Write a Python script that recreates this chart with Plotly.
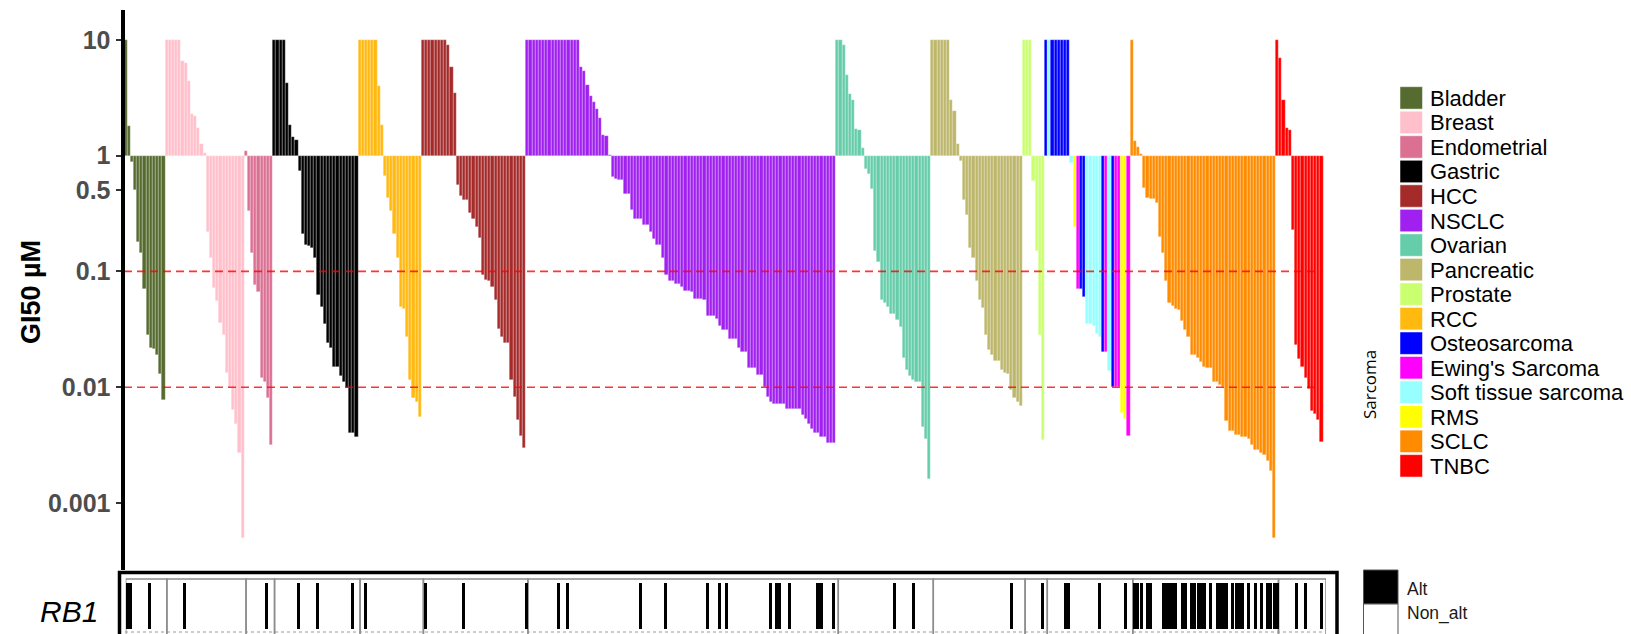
import plotly.graph_objects as go

W, H = 1631, 634

# ---------------- data (GI50 in µM, values clipped at 10) ----------------
groups = ["Bladder", "Breast", "Endometrial", "Gastric", "RCC", "HCC", "NSCLC",
          "Ovarian", "Pancreatic", "Prostate", "Sarcoma", "SCLC", "TNBC"]

gi50_bladder = [10, 1.8, 0.88, 0.50, 0.18, 0.145, 0.070, 0.028, 0.022, 0.0215, 0.019, 0.013, 0.0078]
gi50_breast = [10, 10, 10, 10, 10, 6.6, 6.3, 4.4, 2.3, 2.2, 1.74, 1.27, 1.05,
               0.22, 0.13, 0.072, 0.055, 0.036, 0.028, 0.0134, 0.0098, 0.0063, 0.0048, 0.0027, 0.0005]
gi50_endometrial = [1.1, 0.33, 0.145, 0.076, 0.067, 0.012, 0.011, 0.008, 0.0032]
gi50_gastric = [10, 10, 10, 10, 4.2, 1.83, 1.44, 1.37,
                0.73, 0.21, 0.17, 0.165, 0.16, 0.13, 0.063, 0.049, 0.035, 0.024, 0.022,
                0.015, 0.015, 0.0125, 0.011, 0.0098, 0.004, 0.004, 0.0037]
gi50_rcc = [10, 10, 10, 10, 10, 10, 4.0, 1.83,
            0.66, 0.43, 0.33, 0.21, 0.13, 0.049, 0.047, 0.027, 0.0115, 0.008, 0.0074, 0.0055]
gi50_hcc = [10, 10, 10, 10, 10, 10, 10, 10, 9.0, 5.8, 3.5,
            0.56, 0.45, 0.41, 0.41, 0.32, 0.285, 0.24, 0.195, 0.094, 0.085, 0.082, 0.074,
            0.057, 0.032, 0.027, 0.024, 0.024, 0.0115, 0.0083, 0.0052, 0.0038, 0.003]
gi50_nsclc = [10, 10, 10, 10, 10, 10, 10, 10, 10, 10, 10, 10, 10, 10, 10, 10, 10,
              5.8, 5.4, 4.1, 3.25, 2.9, 2.55, 2.1, 1.5, 1.47, 1.02,
              0.65, 0.63, 0.62, 0.62, 0.47, 0.47, 0.34, 0.285, 0.285, 0.285, 0.25, 0.25,
              0.22, 0.19, 0.17, 0.17, 0.13, 0.094, 0.082, 0.082, 0.078, 0.078, 0.073,
              0.068, 0.068, 0.066, 0.058, 0.058, 0.058, 0.057, 0.041, 0.041, 0.041, 0.039,
              0.034, 0.031, 0.031, 0.026, 0.026, 0.026, 0.022, 0.020, 0.020, 0.0147, 0.0147,
              0.0147, 0.0128, 0.0128, 0.0100, 0.0083, 0.0074, 0.0072, 0.0072, 0.0072, 0.0072,
              0.0065, 0.0065, 0.0065, 0.0065, 0.0065, 0.0058, 0.0053, 0.0048, 0.0044, 0.0040,
              0.0040, 0.0037, 0.0037, 0.0033, 0.0033, 0.0033]
gi50_ovarian = [10, 10, 9.0, 5.0, 3.4, 3.05, 1.7, 1.65, 1.16,
                0.76, 0.69, 0.51, 0.15, 0.12, 0.057, 0.053, 0.049, 0.043, 0.043, 0.038, 0.033,
                0.018, 0.014, 0.0125, 0.0116, 0.011, 0.011, 0.0045, 0.0036, 0.0016]
gi50_pancreatic = [10, 10, 10, 10, 10, 10, 3.05, 2.45, 1.27,
                   0.89, 0.41, 0.31, 0.16, 0.13, 0.082, 0.057, 0.048, 0.028, 0.021, 0.019,
                   0.017, 0.0168, 0.014, 0.0134, 0.013, 0.0094, 0.0080, 0.0074, 0.0069]
gi50_prostate = [10, 10, 10, 0.6, 0.15, 0.028, 0.0035]
gi50_sarcoma = [10, 10, 10, 10, 10, 10, 10, 10,
                0.86, 0.24, 0.070, 0.070, 0.060, 0.035, 0.035, 0.034, 0.029, 0.027,
                0.020, 0.020, 0.0139, 0.0100, 0.0100, 0.0100, 0.0060, 0.0053, 0.0038]
sarcoma_subtype = ["Osteosarcoma", "Soft tissue sarcoma", "Osteosarcoma", "Osteosarcoma",
                   "Osteosarcoma", "Osteosarcoma", "Osteosarcoma", "Osteosarcoma",
                   "Soft tissue sarcoma", "RMS", "Ewing's Sarcoma", "Osteosarcoma", "Osteosarcoma",
                   "Soft tissue sarcoma", "Soft tissue sarcoma", "Soft tissue sarcoma",
                   "Soft tissue sarcoma", "Soft tissue sarcoma", "Osteosarcoma", "Ewing's Sarcoma",
                   "Soft tissue sarcoma", "Osteosarcoma", "Ewing's Sarcoma", "Ewing's Sarcoma",
                   "RMS", "RMS", "Ewing's Sarcoma"]
gi50_sclc = [10, 1.34, 1.19, 1.03,
             0.53, 0.43, 0.42, 0.42, 0.39, 0.20, 0.145, 0.082, 0.053, 0.050, 0.047, 0.046,
             0.037, 0.031, 0.027, 0.019, 0.019, 0.018, 0.0165, 0.015, 0.0148, 0.0147, 0.011,
             0.011, 0.0105, 0.0100, 0.0051, 0.0042, 0.0042, 0.0039, 0.0039, 0.0037, 0.0037,
             0.0036, 0.0032, 0.0029, 0.0029, 0.0027, 0.0026, 0.0023, 0.0019, 0.0005]
gi50_tnbc = [10, 6.9, 3.0, 1.74, 1.65, 0.23, 0.023, 0.0175, 0.015, 0.012, 0.0096,
             0.0062, 0.0059, 0.0052, 0.0034]

# RB1 alteration status: index of altered cell lines within each group
rb1_alt_bladder = [0, 1, 7]
rb1_alt_breast = [5]
rb1_alt_endometrial = [6]
rb1_alt_gastric = [7, 13, 24]
rb1_alt_rcc = [1]
rb1_alt_hcc = [0, 12, 32]
rb1_alt_nsclc = [9, 12, 35, 43, 56, 60, 62, 76, 78, 79, 82, 91, 92, 96]
rb1_alt_ovarian = [17, 23]
rb1_alt_pancreatic = [24]
rb1_alt_prostate = [5]
rb1_alt_sarcoma = [5, 6, 16, 24]
rb1_alt_sclc = [0, 1, 2, 4, 5, 9, 10, 11, 12, 13, 15, 16, 18, 19, 20, 21, 22, 24, 26, 27,
                28, 29, 31, 32, 33, 34, 36, 38, 40, 42, 43, 44, 45]
rb1_alt_tnbc = [5, 8, 13]

legend_labels = ["Bladder", "Breast", "Endometrial", "Gastric", "HCC", "NSCLC", "Ovarian",
                 "Pancreatic", "Prostate", "RCC", "Osteosarcoma", "Ewing's Sarcoma",
                 "Soft tissue sarcoma", "RMS", "SCLC", "TNBC"]
legend_colors = ["#556B2F", "#FFC0CB", "#DB7093", "#000000", "#A52A2A", "#A020F0", "#66CDAA",
                 "#BDB76B", "#CAFF70", "#FFB90F", "#0000FF", "#FF00FF", "#97FFFF", "#FFFF00",
                 "#FF8C00", "#FF0000"]

ytick_vals = [0.001, 0.01, 0.1, 0.5, 1, 10]
ytick_text = ["0.001", "0.01", "0.1", "0.5", "1", "10"]
ref_lines = [0.1, 0.01]

# ---------------- assemble ----------------
values = [gi50_bladder, gi50_breast, gi50_endometrial, gi50_gastric, gi50_rcc, gi50_hcc,
          gi50_nsclc, gi50_ovarian, gi50_pancreatic, gi50_prostate, gi50_sarcoma,
          gi50_sclc, gi50_tnbc]
alts = [rb1_alt_bladder, rb1_alt_breast, rb1_alt_endometrial, rb1_alt_gastric, rb1_alt_rcc,
        rb1_alt_hcc, rb1_alt_nsclc, rb1_alt_ovarian, rb1_alt_pancreatic, rb1_alt_prostate,
        rb1_alt_sarcoma, rb1_alt_sclc, rb1_alt_tnbc]
color_of = dict(zip(legend_labels, legend_colors))

bx, by, bbase, bcol = [], [], [], []
sx = []
bounds = []
idx = 0
for g, vals, alt in zip(groups, values, alts):
    start = idx
    for j, v in enumerate(vals):
        bx.append(idx)
        by.append(v - 1.0)
        bbase.append(1.0)
        if g == "Sarcoma":
            bcol.append(color_of[sarcoma_subtype[j]])
        else:
            bcol.append(color_of[g])
        if j in alt:
            sx.append(idx)
        idx += 1
    bounds.append((start, idx - 1))
N = idx


def px_x(p):
    return p / W


def px_y(p):
    return 1 - p / H


pitch = 1199.0 / N          # pixels per cell line
left_px, right_px = 124.5, 1326.0
x_min = -0.5 + (left_px - 124.0) / pitch
x_max = -0.5 + (right_px - 124.0) / pitch

fig = go.Figure()

fig.add_trace(go.Bar(
    x=bx, y=by, base=bbase, width=1.0,
    marker=dict(color=bcol, line=dict(color="rgba(255,255,255,0.55)", width=0.5)),
    xaxis="x", yaxis="y", showlegend=False, hoverinfo="skip"))

for v in ref_lines:
    fig.add_trace(go.Scatter(
        x=[-0.5, N - 0.5], y=[v, v], mode="lines",
        line=dict(color="rgba(255,0,0,0.8)", width=1.6, dash="8px,5px"),
        xaxis="x", yaxis="y", showlegend=False, hoverinfo="skip"))

fig.add_trace(go.Bar(
    x=sx, y=[1] * len(sx), base=[0] * len(sx), width=0.95,
    marker=dict(color="black", line=dict(width=0)),
    xaxis="x2", yaxis="y2", showlegend=False, hoverinfo="skip"))

shapes = []
annotations = []

# strip panels
for (s, e) in bounds:
    shapes.append(dict(type="rect", xref="x2", yref="paper", x0=s - 0.5, x1=e + 0.5,
                       y0=px_y(636), y1=px_y(579),
                       line=dict(color="#8c8c8c", width=1.5), fillcolor="rgba(0,0,0,0)",
                       layer="below"))
shapes.append(dict(type="line", xref="paper", yref="paper", x0=px_x(125), x1=px_x(1326),
                   y0=px_y(632), y1=px_y(632), line=dict(color="#9a9a9a", width=1, dash="dot")))
# strip outer frame
shapes.append(dict(type="rect", xref="paper", yref="paper", x0=px_x(119.5), x1=px_x(1337),
                   y0=px_y(645), y1=px_y(572.5), line=dict(color="black", width=3.5),
                   fillcolor="rgba(0,0,0,0)"))

# GI50 legend (custom squares)
for k, (lab, col) in enumerate(zip(legend_labels, legend_colors)):
    c = 97.9 + k * 24.53
    shapes.append(dict(type="rect", xref="paper", yref="paper", x0=px_x(1400), x1=px_x(1422.5),
                       y0=px_y(c + 11.2), y1=px_y(c - 11.2), fillcolor=col,
                       line=dict(color="white", width=0.5)))
    annotations.append(dict(text=lab, x=px_x(1428), y=px_y(c + 0.5), xref="paper", yref="paper",
                            xanchor="left", yanchor="middle", showarrow=False,
                            font=dict(family="Liberation Sans", size=22, color="black")))

annotations.append(dict(text="Sarcoma", x=px_x(1369), y=px_y(385), xref="paper", yref="paper",
                        textangle=-90, showarrow=False, xanchor="center", yanchor="middle",
                        font=dict(family="Open Sans", size=17, color="black")))
annotations.append(dict(text="GI50 µM", x=px_x(31), y=px_y(292), xref="paper", yref="paper",
                        textangle=-90, showarrow=False, xanchor="center", yanchor="middle",
                        font=dict(family="Liberation Sans", size=27, color="black", weight="bold")))
annotations.append(dict(text="<i>RB1</i>", x=px_x(69), y=px_y(611), xref="paper", yref="paper",
                        showarrow=False, xanchor="center", yanchor="middle",
                        font=dict(family="Liberation Sans", size=30, color="black")))

# RB1 legend
shapes.append(dict(type="rect", xref="paper", yref="paper", x0=px_x(1363.5), x1=px_x(1398),
                   y0=px_y(604), y1=px_y(570), fillcolor="black", line=dict(color="#555", width=1)))
shapes.append(dict(type="rect", xref="paper", yref="paper", x0=px_x(1363.5), x1=px_x(1398),
                   y0=px_y(645), y1=px_y(604), fillcolor="white", line=dict(color="#555", width=1)))
annotations.append(dict(text="Alt", x=px_x(1405), y=px_y(589), xref="paper", yref="paper",
                        xanchor="left", yanchor="middle", showarrow=False,
                        font=dict(family="Liberation Sans", size=17.5, color="#1a1a1a")))
annotations.append(dict(text="Non_alt", x=px_x(1405), y=px_y(613), xref="paper", yref="paper",
                        xanchor="left", yanchor="middle", showarrow=False,
                        font=dict(family="Liberation Sans", size=17.5, color="#1a1a1a")))

fig.update_layout(
    width=W, height=H, autosize=False,
    margin=dict(l=0, r=0, t=0, b=0, pad=0),
    paper_bgcolor="white", plot_bgcolor="white",
    bargap=0, barmode="overlay",
    xaxis=dict(domain=[px_x(left_px), px_x(right_px)], range=[x_min, x_max], visible=False,
               anchor="y", fixedrange=True),
    yaxis=dict(domain=[px_y(570), px_y(10)], type="log", range=[-3.578, 1.257], anchor="x",
               tickvals=ytick_vals, ticktext=ytick_text, showgrid=False, zeroline=False,
               showline=True, linecolor="black", linewidth=4, ticks="outside", ticklen=5,
               tickwidth=2, tickcolor="#333333",
               tickfont=dict(family="Liberation Sans", size=25, color="#4D4D4D", weight="bold")),
    xaxis2=dict(domain=[px_x(125.7), px_x(1326)], range=[-0.5, N - 0.5], visible=False,
                anchor="y2"),
    yaxis2=dict(domain=[px_y(631), px_y(579)], range=[-0.05, 1.0875], visible=False,
                anchor="x2"),
    shapes=shapes, annotations=annotations,
)

fig.write_html("out.html", config={"displayModeBar": False},
               post_script="document.body.style.margin='0';document.body.style.overflow='hidden';")
